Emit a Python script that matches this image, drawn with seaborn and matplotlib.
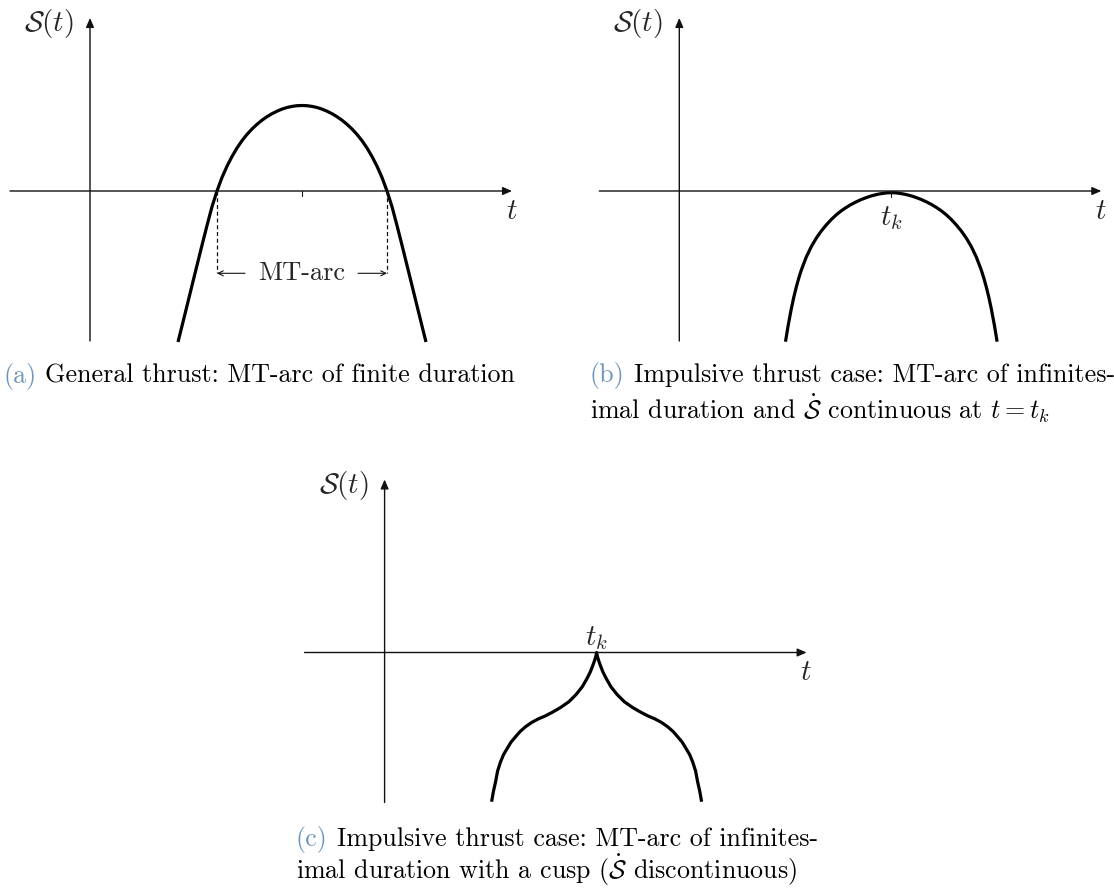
import matplotlib
matplotlib.use("Agg")
import matplotlib.pyplot as plt
import seaborn as sns

# Switching function S(t) sampled left to right, one curve per case
general_t = [0.88, 0.92, 0.97, 1.02, 1.07, 1.12, 1.17, 1.22, 1.27, 1.32,
             1.37, 1.42, 1.47, 1.52, 1.57, 1.62, 1.67, 1.72, 1.77, 1.82,
             1.87, 1.92, 1.97, 2.02, 2.07, 2.12,
             2.17, 2.22, 2.27, 2.32, 2.37, 2.42, 2.47, 2.52, 2.57, 2.62,
             2.67, 2.72, 2.77, 2.82, 2.87, 2.92, 2.97, 3.02, 3.07, 3.12,
             3.17, 3.22, 3.27, 3.32, 3.36]
general_s = [-1.51, -1.35, -1.148, -0.945, -0.743, -0.542, -0.345, -0.157, 0.0, 0.135,
             0.248, 0.345, 0.430, 0.503, 0.566, 0.62, 0.667, 0.708, 0.743, 0.773,
             0.798, 0.819, 0.835, 0.846, 0.853, 0.855,
             0.853, 0.846, 0.835, 0.819, 0.798, 0.773, 0.743, 0.708, 0.667, 0.62,
             0.566, 0.503, 0.430, 0.345, 0.248, 0.135, 0.0, -0.157, -0.345, -0.542,
             -0.743, -0.945, -1.148, -1.35, -1.51]

smooth_t = [1.062, 1.07, 1.09, 1.12, 1.145, 1.17, 1.195, 1.22, 1.27, 1.32,
            1.37, 1.42, 1.47, 1.52, 1.57, 1.62, 1.67, 1.72, 1.77, 1.82,
            1.87, 1.92, 1.97, 2.02, 2.07, 2.12,
            2.17, 2.22, 2.27, 2.32, 2.37, 2.42, 2.47, 2.52, 2.57, 2.62,
            2.67, 2.72, 2.77, 2.82, 2.87, 2.92, 2.97, 3.02, 3.045, 3.07,
            3.095, 3.12, 3.15, 3.17, 3.178]
smooth_s = [-1.507, -1.457, -1.337, -1.178, -1.062, -0.96, -0.87, -0.791, -0.66, -0.556,
            -0.471, -0.40, -0.339, -0.285, -0.238, -0.198, -0.164, -0.134, -0.108, -0.085,
            -0.066, -0.049, -0.036, -0.026, -0.019, -0.017,
            -0.019, -0.026, -0.036, -0.049, -0.066, -0.085, -0.108, -0.134, -0.164, -0.198,
            -0.238, -0.285, -0.339, -0.40, -0.471, -0.556, -0.66, -0.791, -0.87, -0.96,
            -1.062, -1.178, -1.337, -1.457, -1.507]

cusp_t = [1.07, 1.088, 1.11, 1.13, 1.16, 1.19, 1.227, 1.265, 1.31, 1.355,
          1.41, 1.47, 1.535, 1.605, 1.677, 1.76, 1.843, 1.915, 1.977, 2.024,
          2.058, 2.082, 2.098, 2.112, 2.12,
          2.128, 2.142, 2.158, 2.182, 2.216, 2.263, 2.325, 2.397, 2.48, 2.563,
          2.635, 2.705, 2.77, 2.83, 2.885, 2.93, 2.975, 3.013, 3.05, 3.08,
          3.11, 3.13, 3.152, 3.17]
cusp_s = [-1.492, -1.39, -1.292, -1.185, -1.092, -1.02, -0.958, -0.895, -0.842, -0.79,
          -0.742, -0.70, -0.665, -0.635, -0.598, -0.55, -0.492, -0.42, -0.342, -0.26,
          -0.192, -0.13, -0.085, -0.04, 0.0,
          -0.04, -0.085, -0.13, -0.192, -0.26, -0.342, -0.42, -0.492, -0.55, -0.598,
          -0.635, -0.665, -0.70, -0.742, -0.79, -0.842, -0.895, -0.958, -1.02, -1.092,
          -1.185, -1.292, -1.39, -1.492]

t_k = 2.12                      # impulse time / centre of the MT-arc
arc_start, arc_end = 1.27, 2.97  # zeros of S(t) bounding the MT-arc

caption_tags = ["(a)", "(b)", "(c)"]
caption_lines = [
    ["General thrust: MT-arc of finite duration"],
    ["Impulsive thrust case: MT-arc of infinites-",
     r"imal duration and $\dot{\mathcal{S}}$ continuous at $t = t_k$"],
    ["Impulsive thrust case: MT-arc of infinites-",
     r"imal duration with a cusp ($\dot{\mathcal{S}}$ discontinuous)"],
]

sns.set_theme(style="white")
plt.rcParams["font.family"] = ["cmr10", "DejaVu Sans"]
plt.rcParams["mathtext.fontset"] = "cm"
plt.rcParams["axes.unicode_minus"] = False
plt.rcParams["axes.formatter.use_mathtext"] = True

W, H = 1114, 891
INK = "#111111"
TAG = "#6e96b9"
FS = 18.7       # caption text
FS_LABEL = 21   # axis symbols
FS_ARC = 19

fig = plt.figure(figsize=(W / 100, H / 100), dpi=100)
fig.patch.set_facecolor("white")

XLIM = (-0.85, 4.40)
YLIM = (-1.60, 1.90)
PX = 100.0  # pixels per data unit


def panel(ox, oy):
    """Axes whose data origin sits at pixel (ox, oy) measured from the top-left."""
    left = ox + XLIM[0] * PX
    bottom = (H - oy) + YLIM[0] * PX
    ax = fig.add_axes([left / W, bottom / H,
                       (XLIM[1] - XLIM[0]) * PX / W, (YLIM[1] - YLIM[0]) * PX / H])
    ax.set_xlim(*XLIM)
    ax.set_ylim(*YLIM)
    ax.axis("off")
    head = dict(arrowstyle="-|>,head_length=0.55,head_width=0.24", color=INK,
                lw=1.0, shrinkA=0, shrinkB=0, mutation_scale=10)
    ax.annotate("", xy=(4.22, 0), xytext=(-0.80, 0), arrowprops=head)
    ax.annotate("", xy=(0, 1.73), xytext=(0, -1.50), arrowprops=head)
    ax.text(-0.41, 1.67, r"$\mathcal{S}(t)$", ha="center", va="center", fontsize=FS_LABEL)
    ax.text(4.217, -0.207, r"$t$", ha="center", va="center", fontsize=FS_LABEL)
    return ax


def curve(ax, t, s):
    sns.lineplot(x=t, y=s, ax=ax, color="black", lw=2.3, sort=False,
                 estimator=None, legend=False)
    for ln in ax.get_lines():
        ln.set_solid_capstyle("butt")


# (a) general thrust
ax_a = panel(90, 191)
curve(ax_a, general_t, general_s)
ax_a.plot([t_k, t_k], [0, -0.045], color=INK, lw=0.8)
arc_level = -0.823
for t0 in (arc_start, arc_end):
    ax_a.plot([t0, t0], [0, arc_level], color=INK, lw=0.9, ls=(0, (3.2, 2.2)))
thin = dict(arrowstyle="->", color=INK, lw=0.8, shrinkA=0, shrinkB=0, mutation_scale=9)
ax_a.annotate("", xy=(arc_start, arc_level), xytext=(1.55, arc_level), arrowprops=thin)
ax_a.annotate("", xy=(arc_end, arc_level), xytext=(2.68, arc_level), arrowprops=thin)
ax_a.text(t_k, -0.89, "MT-arc", ha="center", va="baseline", fontsize=FS_ARC)

# (b) impulsive thrust, smooth touch
ax_b = panel(679.3, 191)
curve(ax_b, smooth_t, smooth_s)
ax_b.plot([t_k, t_k], [0, -0.06], color=INK, lw=0.8)
ax_b.text(t_k, -0.273, r"$t_k$", ha="center", va="center", fontsize=FS_LABEL)

# (c) impulsive thrust with a cusp
ax_c = panel(384.6, 652.5)
curve(ax_c, cusp_t, cusp_s)
ax_c.text(t_k, 0.142, r"$t_k$", ha="center", va="center", fontsize=FS_LABEL)

# Sub-captions
renderer = fig.canvas.get_renderer()


def caption(x, baseline, tag, lines, gap=9, leading=37):
    y = 1 - baseline / H
    tg = fig.text(x / W, y, tag, color=TAG, fontsize=FS, va="baseline", ha="left")
    x1 = tg.get_window_extent(renderer=renderer).x1
    fig.text((x1 + gap) / W, y, lines[0], color="black", fontsize=FS,
             va="baseline", ha="left")
    for i, line in enumerate(lines[1:], start=1):
        fig.text(x / W, 1 - (baseline + i * leading) / H, line, color="black",
                 fontsize=FS, va="baseline", ha="left")


caption(3, 383, caption_tags[0], caption_lines[0])
caption(590, 382, caption_tags[1], caption_lines[1])
caption(296, 846, caption_tags[2], caption_lines[2], leading=33)

fig.savefig("out.png", dpi=100, facecolor="white")
